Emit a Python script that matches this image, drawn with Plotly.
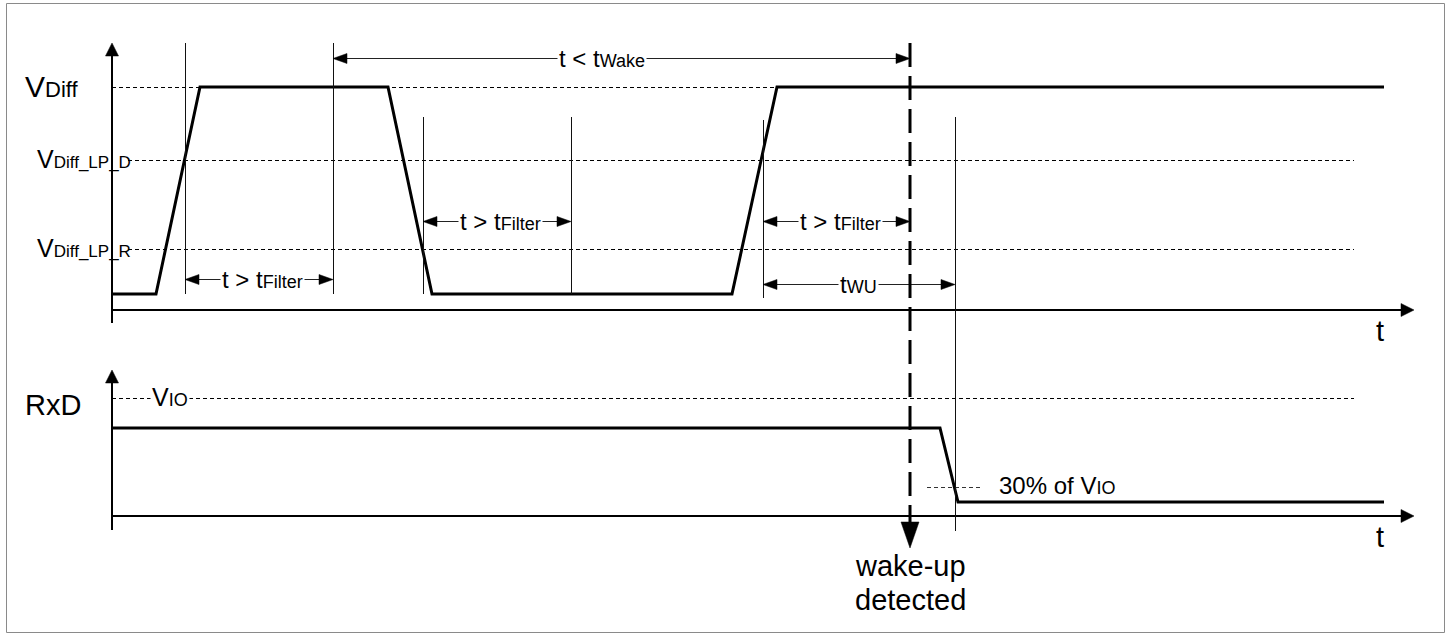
import plotly.graph_objects as go

W, H = 1451, 635
FONT = "Liberation Sans, Arial, sans-serif"

# ---------------- data (diagram coordinates: x = time position, y = signal level) -------------
# signal levels of the V_Diff panel
lvl_vdiff_high = 87
lvl_lp_d = 160
lvl_lp_r = 249
lvl_vdiff_low = 294
upper_t_axis = 310

# signal levels of the RxD panel
lvl_vio = 398
lvl_rxd_high = 428
lvl_30pct = 487
lvl_rxd_low = 502
lower_t_axis = 516

# V_Diff waveform (time instants and levels)
vdiff_t = [111, 156, 200, 388, 432, 732, 777, 1384]
vdiff_v = [lvl_vdiff_low, lvl_vdiff_low, lvl_vdiff_high, lvl_vdiff_high,
           lvl_vdiff_low, lvl_vdiff_low, lvl_vdiff_high, lvl_vdiff_high]

# RxD waveform
rxd_t = [111, 940, 958, 1384]
rxd_v = [lvl_rxd_high, lvl_rxd_high, lvl_rxd_low, lvl_rxd_low]

# thin timing marker lines
marker_t = [185, 333, 423, 571, 763, 955]
marker_top = [43, 43, 117, 117, 120, 117]
marker_bottom = [294, 294, 294, 294, 298, 531]

# timing dimension arrows: start, end, level, label (main, subscript), label centre
dim_t0 = [185, 333, 423, 763, 763]
dim_t1 = [333, 910, 571, 910, 955]
dim_y = [279, 58, 221, 221, 284]
dim_main = ["t > t", "t < t", "t > t", "t > t", "t"]
dim_sub = ["Filter", "Wake", "Filter", "Filter", "WU"]
dim_label_x = [262, 602, 500, 840, 858]

# wake-up detection instant
wake_t = 910
wake_top = 43
wake_arrow_tip = 548

# level labels
level_main = ["V", "V", "V", "RxD", "V"]
level_sub = ["Diff", "Diff_LP_D", "Diff_LP_R", "", "IO"]
level_x = [23, 35, 35, 23, 150]
level_y = [86, 159, 248, 405, 397]
level_size = [30, 25, 25, 29, 25]
level_sub_size = [22, 17, 17, 22, 18]

# ---------------- figure -------------
fig = go.Figure()
shapes = []
annotations = []
HP = 0.5  # half-pixel offset so that 1px lines are crisp


def seg(x0, y0, x1, y1, width=1, color="#000", dash=None):
    line = dict(color=color, width=width)
    if dash:
        line["dash"] = dash
    shapes.append(dict(type="line", xref="x", yref="y", x0=x0, y0=y0, x1=x1, y1=y1,
                       line=line, layer="above"))


def head(tx, ty, direction, length=14, half=5):
    if direction == "right":
        pts = [(tx, ty), (tx - length, ty - half), (tx - length, ty + half)]
    elif direction == "left":
        pts = [(tx, ty), (tx + length, ty - half), (tx + length, ty + half)]
    elif direction == "up":
        pts = [(tx, ty), (tx - half, ty + length), (tx + half, ty + length)]
    else:
        pts = [(tx, ty), (tx - half, ty - length), (tx + half, ty - length)]
    path = "M %g %g L %g %g L %g %g Z" % (pts[0] + pts[1] + pts[2])
    shapes.append(dict(type="path", xref="x", yref="y", path=path,
                       fillcolor="#000", line=dict(color="#000", width=0.5), layer="above"))


def label(x, y, text, size, xanchor="left", bg=None):
    a = dict(x=x, y=y, xref="x", yref="y", text=text, showarrow=False,
             xanchor=xanchor, yanchor="middle",
             font=dict(family=FONT, size=size, color="#000"))
    if bg:
        a["bgcolor"] = bg
        a["borderpad"] = 1
    annotations.append(a)


# outer frame
shapes.append(dict(type="rect", xref="x", yref="y", x0=6 + HP, y0=3 + HP, x1=1444 + HP, y1=632 + HP,
                   line=dict(color="#8a8a8a", width=1), fillcolor="rgba(0,0,0,0)", layer="below"))

# reference level dashed lines
seg(112, lvl_vdiff_high + HP, 1384, lvl_vdiff_high + HP, 1, "#000", "4px,3px")
seg(128, lvl_lp_d + HP, 1354, lvl_lp_d + HP, 1, "#000", "4px,3px")
seg(128, lvl_lp_r + HP, 1354, lvl_lp_r + HP, 1, "#000", "4px,3px")
seg(112, lvl_vio + HP, 1354, lvl_vio + HP, 1, "#000", "4px,3px")
seg(927, lvl_30pct + HP, 983, lvl_30pct + HP, 1, "#333", "4px,3px")

# axes
seg(112, 323, 112, 55, 2)
head(112, 43, "up", 13, 6.5)
seg(111, upper_t_axis, 1401, upper_t_axis, 2)
head(1414, upper_t_axis, "right", 13, 6.5)
seg(112, 530, 112, 382, 2)
head(112, 370, "up", 13, 6.5)
seg(111, lower_t_axis, 1401, lower_t_axis, 2)
head(1414, lower_t_axis, "right", 13, 6.5)

# timing markers
for t, y0, y1 in zip(marker_t, marker_top, marker_bottom):
    seg(t + HP, y0, t + HP, y1, 1, "#111")

# dimension arrows
for t0, t1, y, m, s, lx in zip(dim_t0, dim_t1, dim_y, dim_main, dim_sub, dim_label_x):
    seg(t0 + 6, y + HP, t1 - 6, y + HP, 1.2, "#222")
    head(t0, y + HP, "left")
    head(t1, y + HP, "right")
    label(lx, y, "%s<span style='font-size:18px'>%s</span>" % (m, s), 24, "center", "#fff")

# wake-up detected dashed line with arrow
seg(wake_t, wake_top, wake_t, wake_arrow_tip - 24, 3, "#000", "24px,9px")
head(wake_t, wake_arrow_tip, "down", 26, 9)

# waveforms
fig.add_trace(go.Scatter(x=vdiff_t, y=vdiff_v, mode="lines",
                         line=dict(color="#000", width=3), hoverinfo="skip"))
fig.add_trace(go.Scatter(x=rxd_t, y=rxd_v, mode="lines",
                         line=dict(color="#000", width=3), hoverinfo="skip"))

# level labels
for m, s, x, y, sz, ssz in zip(level_main, level_sub, level_x, level_y, level_size, level_sub_size):
    txt = m if not s else "%s<span style='font-size:%dpx'>%s</span>" % (m, ssz, s)
    label(x, y, txt, sz, "left", "#fff" if s == "IO" else None)

label(997, 485, "30% of V<span style='font-size:18px'>IO</span>", 24, "left")
label(1380, upper_t_axis + 21, "t", 29, "center")
label(1380, lower_t_axis + 21, "t", 29, "center")
label(910, 566, "wake-up", 29, "center")
label(910, 600, "detected", 29, "center")

fig.update_layout(
    width=W, height=H, margin=dict(l=0, r=0, t=0, b=0),
    paper_bgcolor="#fff", plot_bgcolor="#fff", showlegend=False,
    xaxis=dict(range=[0, W], visible=False, fixedrange=True),
    yaxis=dict(range=[H, 0], visible=False, fixedrange=True),
    shapes=shapes, annotations=annotations,
)

fig.write_html("out.html", config={"displayModeBar": False, "staticPlot": True})

with open("out.html", "r", encoding="utf-8") as f:
    html = f.read()
html = html.replace("<head>", "<head><style>html,body{margin:0;padding:0;overflow:hidden;}</style>", 1)
with open("out.html", "w", encoding="utf-8") as f:
    f.write(html)
